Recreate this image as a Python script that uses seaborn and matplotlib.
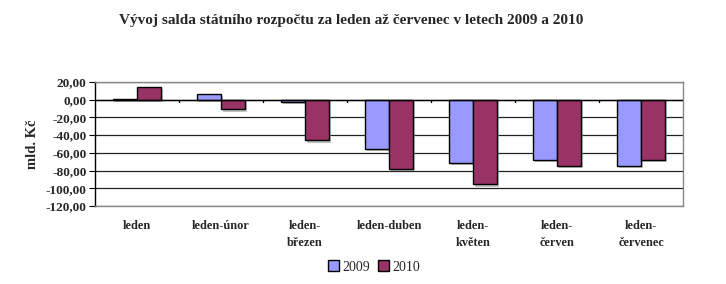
import matplotlib
matplotlib.use("Agg")
import matplotlib.pyplot as plt
import matplotlib.patheffects as pe
from matplotlib.patches import Patch
import seaborn as sns
import pandas as pd
import numpy as np

categories = ["leden", "leden-únor", "leden-\nbřezen", "leden-duben",
              "leden-\nkvěten", "leden-\nčerven", "leden-\nčervenec"]
series_names = ["2009", "2010"]
values_2009 = [0.6, 6.3, -3.0, -55.2, -71.7, -68.4, -75.1]
values_2010 = [14.2, -11.0, -46.0, -77.7, -95.7, -75.1, -68.4]
y_ticks = [20, 0, -20, -40, -60, -80, -100, -120]
colors = ["#9999FF", "#993366"]

df = pd.DataFrame({
    "kat": categories * 2,
    "rok": [series_names[0]] * len(categories) + [series_names[1]] * len(categories),
    "hodnota": values_2009 + values_2010,
})

sns.set_theme(style="white")
plt.rcParams["font.family"] = ["Liberation Serif", "DejaVu Serif"]

fig = plt.figure(figsize=(7.26, 2.84), dpi=100)
ax = fig.add_axes([0.1309, 0.2746, 0.8099, 0.4367])

sns.barplot(data=df, x="kat", y="hodnota", hue="rok", order=categories,
            hue_order=series_names, palette=colors, width=0.57,
            edgecolor="black", linewidth=1.0, ax=ax, legend=False,
            saturation=1)
for p in ax.patches:
    p.set_path_effects([pe.SimplePatchShadow(offset=(1.5, -1.5), shadow_rgbFace="#999999", alpha=0.6), pe.Normal()])

ax.set_ylim(-120, 20)
ax.set_xlim(-0.5, len(categories) - 0.5)
ax.set_yticks(y_ticks)
ax.set_yticklabels([f"{v:.2f}".replace(".", ",") for v in y_ticks],
                   fontsize=9.5, fontweight="bold")
for v in y_ticks:
    ax.axhline(v, color="#222222", linewidth=0.9, zorder=0)
ax.axhline(0, color="black", linewidth=1.0, zorder=3)
# category boundary tick marks on the zero line
for b in np.arange(0.5, len(categories) - 0.5, 1.0):
    ax.plot([b, b], [0, -2.5], color="black", linewidth=1.0, zorder=3)

ax.set_xticks(range(len(categories)))
ax.set_xticklabels(categories, fontsize=8.8, fontweight="bold", linespacing=1.55)
ax.tick_params(axis="x", length=0, pad=10)
ax.tick_params(axis="y", length=4, width=0.8, color="black", left=True, pad=2)
ax.set_xlabel("")
ax.set_ylabel("mld. Kč", fontsize=10.5, fontweight="bold", labelpad=5)

for s in ["top", "right", "bottom"]:
    ax.spines[s].set_color("#888888")
    ax.spines[s].set_linewidth(1.0)
ax.spines["left"].set_color("black")
ax.spines["left"].set_linewidth(1.0)

fig.text(0.484, 0.928, "Vývoj salda státního rozpočtu za leden až červenec v letech 2009 a 2010",
         ha="center", va="center", fontsize=11, fontweight="bold")

handles = [Patch(facecolor=colors[i], edgecolor="black", label=series_names[i]) for i in range(2)]
fig.legend(handles=handles, loc="center", bbox_to_anchor=(0.515, 0.06), ncol=2,
           frameon=False, fontsize=10, handlelength=0.8, handleheight=0.8,
           handletextpad=0.2, columnspacing=0.6)

fig.savefig("out.png", dpi=100)
